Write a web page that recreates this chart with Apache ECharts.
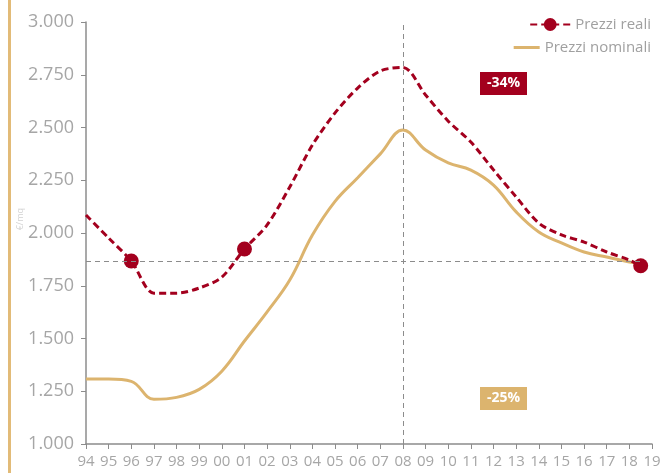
<!DOCTYPE html>
<html>
<head>
<meta charset="utf-8">
<script src="https://cdn.jsdelivr.net/npm/echarts@6/dist/echarts.min.js"></script>
<style>
  html, body { margin: 0; padding: 0; background: #fff; }
  #chart { width: 672px; height: 473px; }
</style>
</head>
<body>
<div id="chart"></div>
<script>
// Years (x) and prices in €/mq
const years = [1994, 1995, 1996, 1997, 1998, 1999, 2000, 2001, 2002, 2003, 2004, 2005, 2006,
               2007, 2008, 2009, 2010, 2011, 2012, 2013, 2014, 2015, 2016, 2017, 2018, 2018.5];
const prezziReali = [2085, 1976, 1867, 1715, 1715, 1739, 1791, 1924, 2038, 2218, 2417, 2569, 2687,
                     2768, 2785, 2654, 2530, 2431, 2299, 2171, 2047, 1991, 1957, 1910, 1872, 1845];
const prezziNominali = [1308, 1308, 1297, 1212, 1221, 1259, 1345, 1488, 1626, 1777, 1990, 2150, 2262,
                        2375, 2488, 2393, 2332, 2298, 2227, 2100, 2005, 1953, 1910, 1886, 1863, 1858];
// Years highlighted with a dot on the real-price line
const dotYears = [1996, 2001, 2018.5];
const peakYear = 2008;
const refYear = 1996;
const deltaReali = '-34%';
const deltaNominali = '-25%';

const RED = '#a3001e';
const GOLD = '#dcb46e';
const GREY = '#8c8c8c';
const FONT = '"Open Sans", "Noto Sans", sans-serif';

const realData = years.map((y, i) => [y, prezziReali[i]]);
const nomData = years.map((y, i) => [y, prezziNominali[i]]);
const refValue = prezziReali[years.indexOf(refYear)];

const chart = echarts.init(document.getElementById('chart'), null, { renderer: 'canvas' });

function badge(left, top, text, fill) {
  return {
    type: 'rect', left: left, top: top,
    shape: { width: 47, height: 23 },
    style: { fill: fill },
    textContent: {
      style: { text: text, fill: '#fff', fontSize: 14, fontWeight: 'bold', fontFamily: FONT }
    },
    textConfig: { position: 'inside' }
  };
}

chart.setOption({
  animation: false,
  textStyle: { fontFamily: FONT },
  grid: { left: 86, right: 20, top: 22, bottom: 29 },
  legend: [
    {
      data: ['Prezzi reali'],
      right: 16, top: 12,
      itemWidth: 40, itemHeight: 16, itemGap: 0,
      textStyle: { color: '#a0a0a0', fontSize: 15, fontFamily: FONT }
    },
    {
      data: [{ name: 'Prezzi nominali', icon: 'rect' }],
      right: 16, top: 35,
      itemWidth: 26, itemHeight: 3, itemGap: 0,
      textStyle: { color: '#a0a0a0', fontSize: 15, fontFamily: FONT }
    }
  ],
  xAxis: {
    type: 'value',
    min: 1994, max: 2019, interval: 1,
    axisLine: { lineStyle: { color: GREY, width: 1.5 } },
    axisTick: { show: true, length: 5, lineStyle: { color: GREY } },
    splitLine: { show: false },
    axisLabel: {
      color: '#a6a6a6', fontSize: 15, margin: 10, fontFamily: FONT,
      formatter: v => String(v % 100).padStart(2, '0')
    }
  },
  yAxis: {
    type: 'value',
    min: 1000, max: 3000, interval: 250,
    axisLine: { show: true, lineStyle: { color: GREY, width: 1.5 } },
    axisTick: { show: true, length: 5, lineStyle: { color: GREY } },
    splitLine: { show: false },
    axisLabel: {
      color: '#a6a6a6', fontSize: 18, margin: 12, fontFamily: FONT,
      formatter: v => {
        const s = String(Math.round(v));
        return s.slice(0, s.length - 3) + '.' + s.slice(-3);
      }
    }
  },
  series: [
    {
      name: 'Prezzi nominali',
      type: 'line',
      data: nomData,
      smooth: 0.4,
      symbol: 'none',
      lineStyle: { color: GOLD, width: 3 },
      itemStyle: { color: GOLD },
      z: 2,
      markLine: {
        silent: true,
        symbol: 'none',
        label: { show: false },
        lineStyle: { color: GREY, type: [5, 4], width: 1 },
        data: [
          { xAxis: peakYear },
          [ { coord: [years[0], refValue] }, { coord: [years[years.length - 1], refValue] } ]
        ]
      }
    },
    {
      name: 'Prezzi reali',
      type: 'line',
      data: realData,
      smooth: 0.3,
      symbol: 'circle',
      symbolSize: (v) => (dotYears.includes(v[0]) ? 15 : 0),
      showAllSymbol: true,
      lineStyle: { color: RED, width: 3, type: [7, 4] },
      itemStyle: { color: RED },
      z: 3
    }
  ],
  graphic: [
    // gold bar along the left edge
    { type: 'rect', left: 8, top: 0, shape: { width: 3, height: 473 }, style: { fill: '#e2bb78' } },
    // unit label, very faint
    {
      type: 'text', left: 16, top: 208, rotation: Math.PI / 2,
      style: { text: '€/mq', fill: '#d3d3d3', fontSize: 9, fontFamily: FONT }
    },
    // variation badges
    badge(480, 72, deltaReali, RED),
    badge(480, 387, deltaNominali, GOLD)
  ]
});
</script>
</body>
</html>
